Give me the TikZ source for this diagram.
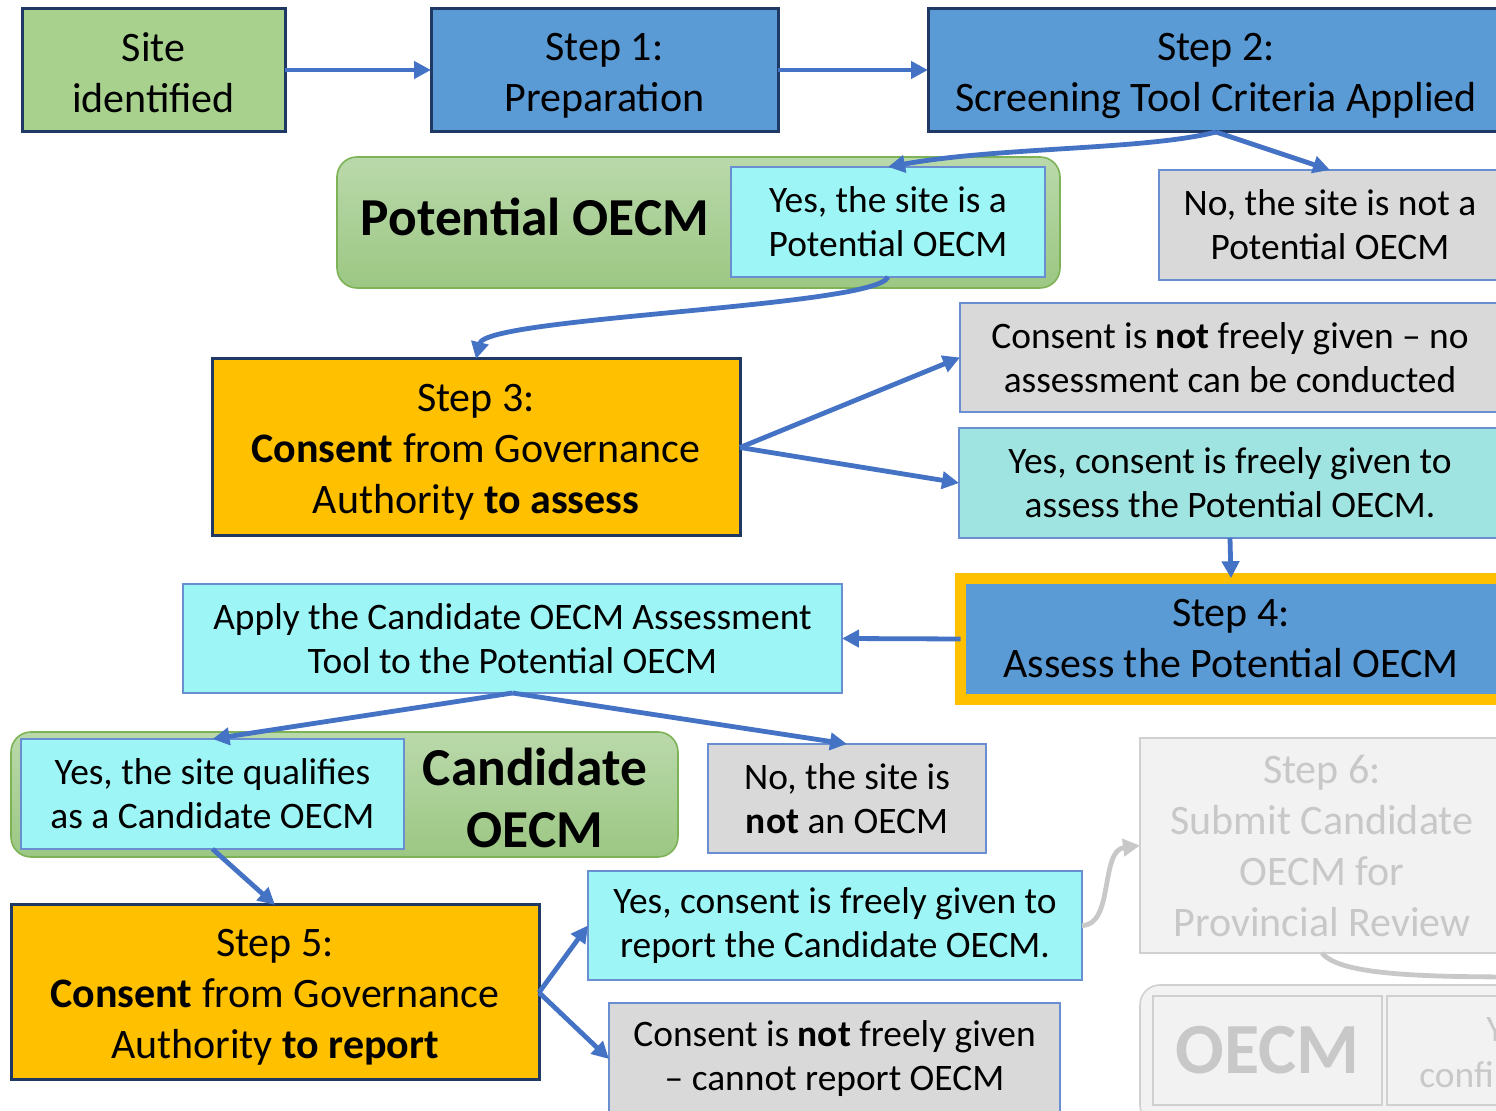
\documentclass[tikz,border=0pt]{standalone}
\usepackage{fontspec}
\setmainfont{Carlito}
\usetikzlibrary{arrows.meta}
\definecolor{navy}{HTML}{1F3864}
\definecolor{stepblue}{HTML}{5B9BD5}
\definecolor{sitegreen}{HTML}{A9D18E}
\definecolor{gold}{HTML}{FFC000}
\definecolor{cyanbox}{HTML}{9EF5F5}
\definecolor{tealbox}{HTML}{A0E4E1}
\definecolor{graybox}{HTML}{D9D9D9}
\definecolor{lineblue}{HTML}{4472C4}
\definecolor{thinblue}{HTML}{6A8FD0}
\definecolor{grtop}{HTML}{BAD9AB}
\definecolor{grbot}{HTML}{9CC783}
\definecolor{grline}{HTML}{7DB356}
\definecolor{fadefill}{HTML}{F2F2F2}
\definecolor{fadeline}{HTML}{D0D0D0}
\definecolor{fadetext}{HTML}{C8C8C8}
\begin{document}
\begin{tikzpicture}[x=0.5pt,y=-0.5pt,
  box/.style={rectangle, inner sep=0pt, outer sep=0pt, align=center, text=black},
  navybox/.style={box, draw=navy, line width=1.5pt},
  thinbox/.style={box, draw=thinblue, line width=0.9pt},
  bigtxt/.style={font=\fontsize{21}{25.5}\selectfont},
  txtnode/.style={inner sep=0pt, align=center, text=black, bigtxt},
  smalltxt/.style={font=\fontsize{18.7}{22}\selectfont},
  grouplab/.style={inner sep=0pt, align=center, font=\fontsize{26.7}{31}\selectfont\bfseries},
  groupbox/.style={rectangle, rounded corners=10pt, draw=grline, line width=0.8pt, top color=grtop, bottom color=grbot, inner sep=0pt, outer sep=0pt},
  fadebox/.style={box, draw=fadeline, line width=1pt, fill=fadefill, text=fadetext},
  arr/.style={draw=lineblue, line width=2.4pt, -{Triangle[length=8.5pt,width=8.5pt]}},
  fadearr/.style={draw=fadetext, line width=2.4pt, -{Triangle[length=8.5pt,width=8.5pt]}}
]
\useasboundingbox (0,0) rectangle (1496,1111);
\clip (0,0) rectangle (1496,1111);

% groups
\node[groupbox, minimum width=361.5pt, minimum height=65.5pt] (potg) at (698.5,222.5) {};
\node[groupbox, minimum width=333.5pt, minimum height=62.5pt] (candg) at (344.5,794.5) {};
\node[groupbox, draw=fadeline, top color=fadefill, bottom color=fadefill, minimum width=190pt, minimum height=70pt] (og) at (1330,1055) {};

\node[grouplab] (potlab) at (535,217) {Potential OECM};
\node[grouplab] (candlab) at (535,798) {Candidate\\OECM};

% top row
\node[navybox, fill=sitegreen, minimum width=131.5pt, minimum height=61.5pt] (site) at (153.5,70.5) {};
\node[txtnode] (sitet) at (153.5,73) {Site\\identified};
\node[navybox, fill=stepblue, minimum width=173.5pt, minimum height=61.5pt] (s1) at (604.5,70.5) {};
\node[txtnode] (s1t) at (604.5,75.5) {Step 1:\\Preparation};
\node[navybox, fill=stepblue, minimum width=288pt, minimum height=61.5pt] (s2) at (1216,70.5) {};
\node[txtnode] (s2t) at (1216,75.5) {Step 2:\\Screening Tool Criteria Applied};

\node[thinbox, fill=cyanbox, smalltxt, minimum width=157pt, minimum height=55pt] (potyes) at (888,222) {Yes, the site is a\\Potential OECM};
\node[thinbox, fill=graybox, smalltxt, minimum width=171pt, minimum height=55pt] (potno) at (1330,225) {No, the site is not a\\Potential OECM};

\node[navybox, fill=gold, minimum width=264pt, minimum height=88.5pt] (s3) at (476,447.5) {};
\node[txtnode] (s3t) at (476,452.5) {Step 3:\\\textbf{Consent} from Governance\\Authority \textbf{to assess}};
\node[thinbox, fill=graybox, smalltxt, minimum width=270pt, minimum height=54.5pt] (cnot) at (1230,357.5) {Consent is \textbf{not} freely given -- no\\assessment can be conducted};
\node[thinbox, fill=tealbox, smalltxt, minimum width=271pt, minimum height=55pt] (cyes) at (1230,483) {Yes, consent is freely given to\\assess the Potential OECM.};

\node[box, draw=gold, line width=5.5pt, fill=stepblue, bigtxt, minimum width=270.5pt, minimum height=60.75pt] (s4) at (1231,639) {Step 4:\\Assess the Potential OECM};
\node[thinbox, fill=cyanbox, smalltxt, minimum width=329.5pt, minimum height=54.5pt] (apply) at (512.5,638.5) {Apply the Candidate OECM Assessment\\Tool to the Potential OECM};

\node[thinbox, fill=cyanbox, smalltxt, minimum width=191.5pt, minimum height=55pt] (candyes) at (212.5,794) {Yes, the site qualifies\\as a Candidate OECM};
\node[thinbox, fill=graybox, smalltxt, minimum width=139pt, minimum height=54.5pt] (notoecm) at (847,798.5) {No, the site is\\\textbf{not} an OECM};

\node[navybox, fill=gold, minimum width=264pt, minimum height=87.5pt] (s5) at (275,992.5) {};
\node[txtnode] (s5t) at (275,997.5) {Step 5:\\\textbf{Consent} from Governance\\Authority \textbf{to report}};
\node[thinbox, fill=cyanbox, smalltxt, minimum width=247pt, minimum height=54.5pt] (ryes) at (835,925.5) {Yes, consent is freely given to\\report the Candidate OECM.};
\node[thinbox, fill=graybox, smalltxt, minimum width=225.5pt, minimum height=56pt] (rnot) at (834.5,1059) {Consent is \textbf{not} freely given\\-- cannot report OECM};

% faded
\node[fadebox, bigtxt, minimum width=182pt, minimum height=107.5pt] (s6) at (1322,845.5) {Step 6:\\Submit Candidate\\OECM for\\Provincial Review};
\node[fadebox, minimum width=114.5pt, minimum height=54.5pt, font=\fontsize{36}{40}\selectfont\bfseries] (oecmbox) at (1267.5,1050.5) {OECM};
\node[fadebox, minimum width=66.5pt, minimum height=54.5pt] (ybox) at (1453.5,1050.5) {};
\node[anchor=west, inner sep=0pt, text=fadetext, smalltxt] (ytxt) at (1486,1030) {Y};
\node[anchor=west, inner sep=0pt, text=fadetext, smalltxt] (conftxt) at (1419,1075) {confi};
\coordinate (offr) at (1530,977);

% arrows
\draw[arr] (site.east |- 0,70) -- (s1.west |- 0,70);
\draw[arr] (s1.east |- 0,70) -- (s2.west |- 0,70);
\draw[arr] (s2.south) .. controls +(-70,18) and +(110,-20) .. (potyes.north);
\draw[arr] (s2.south) -- (potno.north);
\draw[arr] (potyes.south) .. controls +(-13,30) and +(10,-42) .. (s3.north);
\draw[arr] (s3.east) -- (cnot.west);
\draw[arr] (s3.east) -- (cyes.west);
\draw[arr] (cyes.south) -- (s4.north);
\draw[arr] (s4.west) -- (apply.east);
\draw[arr] (apply.south) -- (candyes.north);
\draw[arr] (apply.south) -- (notoecm.north);
\draw[arr] (candyes.south) -- (s5.north);
\draw[arr] (s5.east) -- (ryes.west);
\draw[arr] (s5.east) -- (rnot.west);
\draw[fadearr] (ryes.east) .. controls +(32,0) and +(-40,5) .. (s6.west);
\draw[draw=fadetext, line width=2.4pt] (s6.south) .. controls +(18,23) and +(-100,0) .. (offr);
\end{tikzpicture}
\end{document}
